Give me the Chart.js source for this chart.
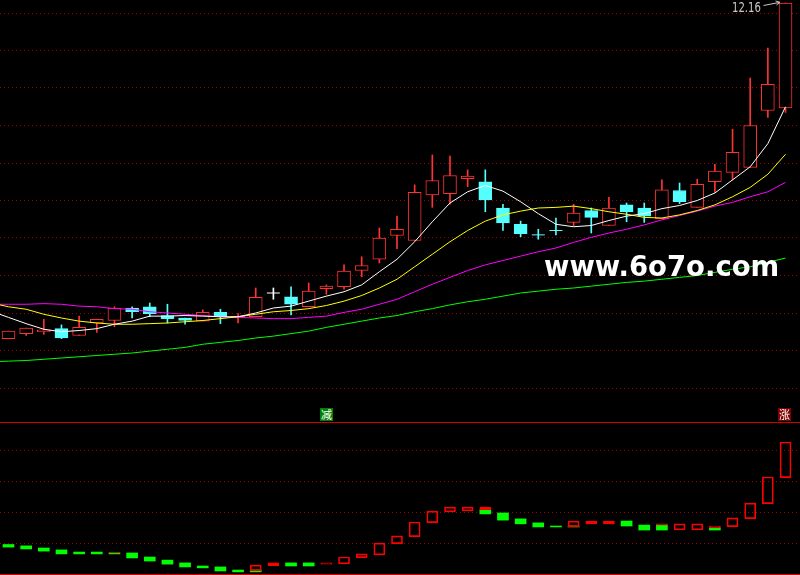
<!DOCTYPE html>
<html><head><meta charset="utf-8">
<script src="https://cdn.jsdelivr.net/npm/chart.js@4.4.1/dist/chart.umd.min.js"></script>
<style>
html,body{margin:0;padding:0;background:#000;width:800px;height:575px;overflow:hidden;}
#wrap{position:relative;width:800px;height:575px;background:#000;}
canvas{position:absolute;left:0;}
#main{top:0;}
#sub{top:422px;}
#wm{position:absolute;left:544px;top:253px;font:bold 27.5px/1 "DejaVu Sans";color:#fff;white-space:nowrap;}
#hi{position:absolute;left:732px;top:0;font:14px/1 "Liberation Sans Narrow","DejaVu Sans Condensed",sans-serif;color:#c8c8c8;white-space:nowrap;transform:scaleX(0.8);transform-origin:0 0;}
#arrow{position:absolute;left:762px;top:0;}
.tag{position:absolute;top:408px;width:13px;height:13px;color:#fff;font:11px/13px "Noto Sans CJK SC";text-align:center;overflow:hidden;}
</style></head>
<body><div id="wrap">
<canvas id="main" width="800" height="422"></canvas>
<canvas id="sub" width="800" height="153"></canvas>
<div id="wm">www.6o7o.com</div>
<div id="hi"></div>
<svg id="arrow" width="22" height="8"><path d="M1.5 5.5 L17 2.5" stroke="#c8c8c8" stroke-width="1" fill="none"/><path d="M13.5 1 L18 2.3 L14.5 5" stroke="#c8c8c8" stroke-width="1" fill="none"/></svg>
<div class="tag" style="left:320px;background:#008000">减</div>
<div class="tag" style="left:778px;background:#800000">涨</div>
</div>
<script>
// ---- daily candles ----
const opens  = [6.79, 6.87, 6.90, 6.95, 6.84, 7.04, 7.08, 7.28, 7.30, 7.16, 7.12, 7.07, 7.21, 7.12, 7.14, 7.52, 7.46, 7.30, 7.59, 7.62, 7.88, 8.06, 8.44, 8.36, 9.09, 9.11, 9.35, 9.30, 8.88, 8.62, 8.46, 8.53, 8.65, 8.84, 8.60, 8.93, 8.88, 8.71, 9.16, 8.89, 9.30, 9.45, 9.53, 10.44, 10.48];
const highs  = [6.91, 6.96, 7.10, 7.01, 7.15, 7.10, 7.30, 7.30, 7.36, 7.34, 7.12, 7.25, 7.26, 7.19, 7.60, 7.60, 7.62, 7.68, 7.65, 7.97, 8.10, 8.56, 8.75, 9.25, 9.73, 9.71, 9.49, 9.49, 8.94, 8.67, 8.54, 8.72, 8.94, 8.88, 9.05, 8.96, 8.96, 9.33, 9.28, 9.34, 9.58, 10.14, 10.96, 11.44, 12.16];
const lows   = [6.79, 6.84, 6.86, 6.79, 6.84, 6.89, 6.98, 7.12, 7.14, 7.04, 7.02, 7.07, 7.03, 7.04, 7.14, 7.42, 7.17, 7.30, 7.50, 7.58, 7.78, 8.00, 8.23, 8.36, 8.89, 8.94, 9.22, 8.82, 8.52, 8.42, 8.38, 8.45, 8.59, 8.48, 8.60, 8.66, 8.65, 8.71, 8.95, 8.89, 9.13, 9.33, 9.53, 10.33, 10.41];
const closes = [6.91, 6.96, 6.93, 6.80, 6.97, 7.10, 7.28, 7.22, 7.19, 7.11, 7.08, 7.21, 7.14, 7.15, 7.45, 7.52, 7.34, 7.55, 7.63, 7.87, 7.96, 8.40, 8.54, 9.13, 9.32, 9.40, 9.39, 9.01, 8.64, 8.47, 8.45, 8.52, 8.80, 8.73, 8.88, 8.82, 8.75, 9.17, 8.98, 9.26, 9.47, 9.77, 10.20, 10.86, 12.16];

// ---- moving averages (first value = the day before the first candle) ----
const ma5  = [7.23, 7.13, 7.03, 6.94, 6.90, 6.92, 6.95, 7.02, 7.07, 7.15, 7.15, 7.16, 7.15, 7.14, 7.14, 7.20, 7.28, 7.31, 7.39, 7.47, 7.54, 7.65, 7.86, 8.06, 8.34, 8.66, 8.96, 9.14, 9.24, 9.15, 8.98, 8.79, 8.62, 8.58, 8.60, 8.68, 8.75, 8.79, 8.87, 8.92, 9.00, 9.12, 9.33, 9.54, 9.91, 10.50];
const ma10 = [7.36, 7.30, 7.26, 7.18, 7.12, 7.07, 7.04, 7.02, 7.02, 7.03, 7.04, 7.06, 7.08, 7.11, 7.14, 7.18, 7.22, 7.24, 7.27, 7.32, 7.39, 7.48, 7.60, 7.74, 7.94, 8.14, 8.34, 8.52, 8.67, 8.77, 8.83, 8.88, 8.89, 8.91, 8.87, 8.82, 8.78, 8.73, 8.72, 8.77, 8.84, 8.93, 9.06, 9.21, 9.42, 9.74];
const ma20 = [7.34, 7.34, 7.34, 7.35, 7.34, 7.31, 7.30, 7.27, 7.26, 7.22, 7.20, 7.18, 7.16, 7.14, 7.13, 7.12, 7.11, 7.11, 7.13, 7.15, 7.21, 7.26, 7.34, 7.42, 7.54, 7.66, 7.77, 7.88, 7.97, 8.04, 8.11, 8.18, 8.24, 8.33, 8.41, 8.48, 8.54, 8.61, 8.69, 8.76, 8.83, 8.91, 8.97, 9.06, 9.14, 9.29];
const ma60 = [6.42, 6.43, 6.44, 6.46, 6.48, 6.50, 6.52, 6.54, 6.56, 6.59, 6.62, 6.65, 6.70, 6.73, 6.76, 6.80, 6.83, 6.87, 6.91, 6.97, 7.02, 7.07, 7.12, 7.16, 7.22, 7.27, 7.33, 7.38, 7.42, 7.47, 7.52, 7.55, 7.58, 7.60, 7.63, 7.66, 7.69, 7.71, 7.74, 7.77, 7.80, 7.85, 7.90, 7.94, 8.01, 8.08];
const priceGrid = [12.0, 11.4, 10.8, 10.2, 9.6, 9.0, 8.4, 7.8, 7.2, 6.6, 6.0];

// ---- lower indicator: falling segments (prev -> now) and rising segments ----
const indFall = [[0.0,-1.0],[-0.6,-1.6],[-1.3,-2.3],[-1.9,-3.2],[-2.6,-3.2],[-2.6,-3.2],[-2.9,-3.2],[-2.9,-4.5],[-4.2,-5.5],[-5.2,-6.5],
  [-6.1,-7.4],[-7.1,-7.7],[-7.4,-8.7],[-8.4,-9.0],[-8.4,-9.0],null,[-6.1,-7.1],[-6.1,-7.1],null,null,
  null,null,null,null,null,null,null,[11.0,9.7],[10.0,7.7],[8.1,6.5],
  [6.8,5.5],[5.8,5.5],[5.8,5.5],null,null,[7.4,5.8],[6.1,4.5],[6.1,4.5],null,null,
  [5.2,4.5],null,null,null,null];
const indRise = [null,null,null,null,null,null,[-2.9,-2.6],null,null,null,
  null,null,null,null,[-8.6,-6.8],[-7.0,-6.1],null,null,[-6.5,-6.1],[-6.4,-4.2],
  [-4.4,-3.2],[-3.5,0.3],[0.1,2.6],[2.4,7.1],[6.9,10.6],[10.4,11.9],[10.7,11.9],[11.0,11.9],null,null,
  null,null,[5.6,7.4],[6.5,7.4],[6.5,7.4],null,null,[6.1,6.5],[4.6,6.5],[4.6,6.5],
  [5.2,5.8],[5.6,8.4],[8.2,13.2],[13.0,21.6],[21.4,32.9]];
const indGrid = [0, 10, 20, 30];

const RED = '#ff3232', CYAN = '#54ffff', WHITE = '#ffffff';
const X_MIN = -0.481, X_MAX = 44.82;
const idx = opens.map((_, i) => i);
const isDoji = i => Math.abs(opens[i] - closes[i]) < 0.015;
const colorOf = i => closes[i] > opens[i] ? RED : (closes[i] < opens[i] ? CYAN : WHITE);
const bodyIdx = idx.filter(i => !isDoji(i));
const dojiIdx = idx.filter(i => isDoji(i));
const maPts = arr => arr.map((v, k) => ({x: k - 1, y: v}));

document.getElementById('hi').textContent = highs[highs.length - 1].toFixed(2);

const lineDs = (data, color, order) => ({type:'line', data: maPts(data), borderColor: color, borderWidth: 1,
  pointRadius: 0, tension: 0, order: order, fill: false});

new Chart(document.getElementById('main'), {
  type: 'bar',
  data: { datasets: [
    lineDs(ma5, '#ffffff', 0),
    lineDs(ma10, '#ffff00', 1),
    lineDs(ma20, '#ff00ff', 2),
    lineDs(ma60, '#00ff00', 3),
    { type:'line', showLine:false, order: 4,
      data: dojiIdx.map(i => ({x: i, y: closes[i]})),
      pointStyle: 'line', pointRadius: 6.5, pointBorderWidth: 1,
      pointBorderColor: dojiIdx.map(colorOf), pointBackgroundColor: dojiIdx.map(colorOf) },
    { type:'bar', order: 5, grouped: false, barThickness: 13, borderSkipped: false, borderWidth: 1,
      data: bodyIdx.map(i => ({x: i, y: [opens[i], closes[i]]})),
      backgroundColor: bodyIdx.map(i => closes[i] > opens[i] ? '#000000' : CYAN),
      borderColor: bodyIdx.map(colorOf) },
    { type:'bar', order: 6, grouped: false, barThickness: 1, borderWidth: 0,
      data: idx.map(i => ({x: i, y: [lows[i], highs[i]]})),
      backgroundColor: idx.map(colorOf) }
  ]},
  options: {
    responsive: false, animation: false, events: [],
    layout: { padding: 0, autoPadding: false },
    plugins: { legend: {display:false}, tooltip: {enabled:false} },
    scales: {
      x: { type:'linear', min: X_MIN, max: X_MAX, offset: false, display: false },
      y: { type:'linear', min: 5.456, max: 12.208, display: true,
        ticks: { display: false }, grid: { color: '#a00000', lineWidth: 1, drawTicks: false },
        border: { display: false, dash: [1, 3] },
        afterBuildTicks: s => { s.ticks = priceGrid.map(v => ({value: v})); } }
    }
  }
});

const IND_MIN = -9.68, IND_MAX = 39.35;
new Chart(document.getElementById('sub'), {
  type: 'bar',
  data: { datasets: [
    { type:'bar', order: 0, grouped: false, barThickness: 11, borderSkipped: false, borderWidth: 1,
      data: idx.filter(i => indRise[i]).map(i => ({x: i, y: indRise[i]})),
      backgroundColor: 'rgba(0,0,0,0)', borderColor: '#ff0000' },
    { type:'bar', order: 1, grouped: false, barThickness: 11, borderWidth: 0,
      data: idx.filter(i => indFall[i]).map(i => ({x: i, y: indFall[i]})),
      backgroundColor: '#00ff00' }
  ]},
  options: {
    responsive: false, animation: false, events: [],
    layout: { padding: { top: 0, bottom: 1, left: 0, right: 0 }, autoPadding: false },
    plugins: { legend: {display:false}, tooltip: {enabled:false} },
    scales: {
      x: { type:'linear', min: X_MIN, max: X_MAX, offset: false, display: false },
      y: { type:'linear', min: IND_MIN, max: IND_MAX, display: true,
        ticks: { display: false }, grid: { color: '#a00000', lineWidth: 1, drawTicks: false },
        border: { display: false, dash: [1, 3] },
        afterBuildTicks: s => { s.ticks = indGrid.map(v => ({value: v})); } },
      y2: { type:'linear', position: 'left', min: IND_MIN, max: IND_MAX, display: true,
        ticks: { display: false }, grid: { color: '#d00000', lineWidth: 1, drawTicks: false },
        border: { display: false },
        afterBuildTicks: s => { s.ticks = [IND_MIN, IND_MAX].map(v => ({value: v})); } }
    }
  }
});
</script>
</body></html>
